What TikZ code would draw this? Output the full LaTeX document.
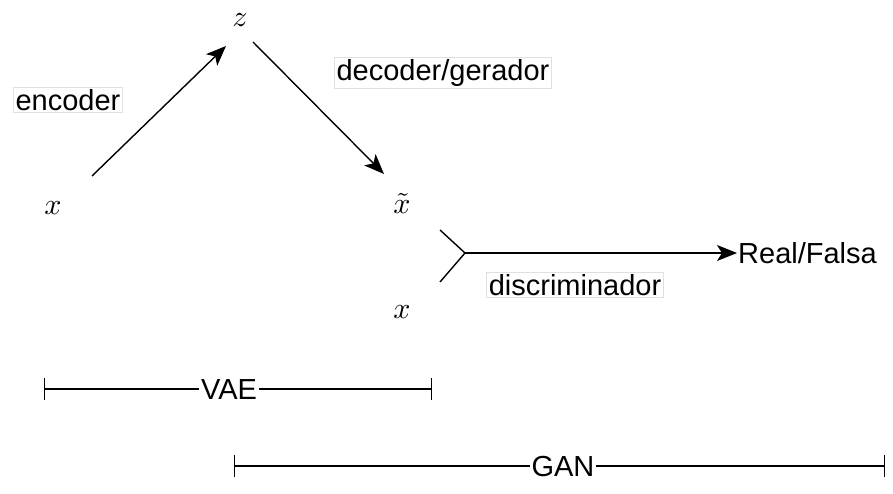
\documentclass[tikz,border=0pt]{standalone}
\usepackage{fontspec}
\setmainfont{Liberation Sans}
\usetikzlibrary{arrows.meta}
\begin{document}
\begin{tikzpicture}[x=1pt,y=-1pt,
  txt/.style={font=\fontsize{29}{34}\selectfont, inner sep=1pt},
  mathsym/.style={scale=3, inner sep=0pt},
  lbl/.style={txt, draw=black!12, fill=white, inner sep=2pt, line width=0.6pt},
  conn/.style={line width=1.4pt},
  arr/.style={conn, -{Stealth[length=20pt,width=16pt,inset=5pt]}},
  span/.style={line width=1.4pt, {Bar[width=22pt,line width=1.4pt]}-{Bar[width=22pt,line width=1.4pt]}}
]
\useasboundingbox (0,0) rectangle (893,494);
% math nodes
\node[mathsym] (x1) at (53,208) {$x$};
\node[mathsym] (z) at (240,20) {$z$};
\node[mathsym] (xt) at (402,203) {$\tilde{x}$};
\node[mathsym] (x2) at (402,312) {$x$};
\node[txt, anchor=west] (rf) at (737,253) {Real/Falsa};
% connector ends
\coordinate (e1) at (92,176);
\coordinate (e2) at (226,46);
\coordinate (d1) at (253,42);
\coordinate (d2) at (384,174);
\coordinate (f1) at (440,230);
\coordinate (f2) at (440,282);
\coordinate (j) at (465,253);
% arrows
\draw[arr] (e1) -- (e2);
\draw[arr] (d1) -- (d2);
\draw[conn] (f1) -- (j) -- (f2);
\draw[arr] (j) -- (rf.west);
% labels
\node[lbl] (enc) at (68,100) {encoder};
\node[lbl] (dec) at (443,73) {decoder/gerador};
\node[lbl] (dis) at (575,285) {discriminador};
% spans
\coordinate (vl) at (44,389);
\coordinate (vr) at (432,389);
\coordinate (gl) at (234,466);
\coordinate (gr) at (885,466);
\draw[span] (vl) -- (vr);
\draw[span] (gl) -- (gr);
\node[lbl, draw=none] (vae) at (229,390) {VAE};
\node[lbl, draw=none] (gan) at (563,467) {GAN};
\end{tikzpicture}
\end{document}
